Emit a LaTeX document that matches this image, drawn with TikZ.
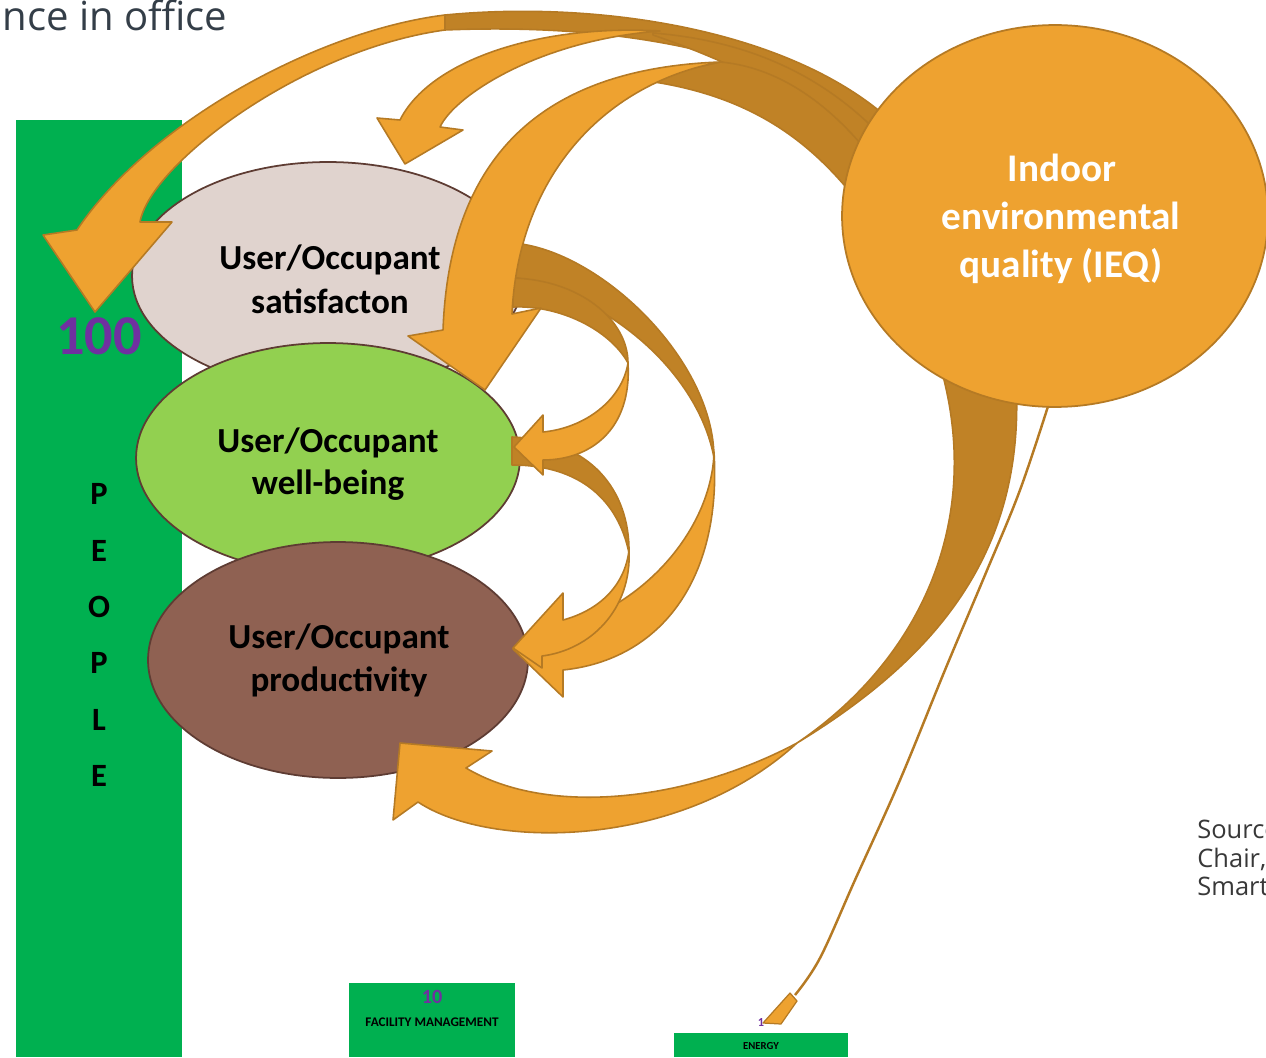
\documentclass[tikz,border=0pt]{standalone}
\usepackage{fontspec}
\setmainfont{Carlito}
\newfontfamily\headfont{Open Sans}
\usetikzlibrary{shapes.geometric}

\definecolor{gbar}{HTML}{00B050}
\definecolor{purp}{HTML}{7030A0}
\definecolor{amber}{HTML}{EEA230}
\definecolor{amberdk}{HTML}{C08226}
\definecolor{amberln}{HTML}{B57A24}
\definecolor{satfill}{HTML}{E0D3CE}
\definecolor{wbfill}{HTML}{92D050}
\definecolor{prodfill}{HTML}{8F6152}
\definecolor{ellline}{HTML}{5E3C33}
\definecolor{slate}{HTML}{343E48}

\begin{document}
\begin{tikzpicture}[x=0.02cm,y=-0.02cm,
  front/.style={fill=amber,draw=amberln,line width=0.9pt,line join=round},
  back/.style={fill=amberdk,draw=amberln,line width=0.9pt,line join=round},
  oval/.style={ellipse,draw=ellline,line width=1pt,inner sep=0pt},
  lbl/.style={font=\bfseries\fontsize{20}{24}\selectfont,anchor=base,inner sep=0pt},
  ieqlbl/.style={font=\bfseries\fontsize{22.3}{27}\selectfont,text=white,anchor=base,inner sep=0pt},
  letter/.style={font=\bfseries\fontsize{18.5}{20}\selectfont,anchor=base,inner sep=0pt},
  note/.style={font=\headfont\fontsize{14.5}{16}\selectfont,text=black!78,anchor=base west,inner sep=0pt},
  box/.style={fill=gbar,draw=none,anchor=north west,inner sep=0pt}
]
\useasboundingbox (0,0) rectangle (1266,1057);

% green blocks
\node[box,minimum width=3.32cm,minimum height=18.74cm] (people) at (16,120) {};
\node[box,minimum width=3.32cm,minimum height=1.48cm] (fm) at (349,983) {};
\node[box,minimum width=3.48cm,minimum height=0.48cm] (energy) at (674,1033) {};
\node[font=\bfseries\fontsize{11.5}{12}\selectfont,text=purp,inner sep=0pt] (fmval) at (432,997) {10};
\node[font=\bfseries\fontsize{7.5}{8}\selectfont,inner sep=0pt] (fmtxt) at (432,1022) {FACILITY MANAGEMENT};
\node[font=\bfseries\fontsize{6.1}{7}\selectfont,inner sep=0pt] (entxt) at (761,1046) {ENERGY};
\node[font=\bfseries\fontsize{7}{8}\selectfont,text=purp,inner sep=0pt] (enval) at (761,1022) {1};

% heading and source note
\node[font=\headfont\fontsize{22.8}{26}\selectfont,text=slate,anchor=base west,inner sep=0pt] (title) at (-20,31) {ance in office};
\node[note] (src1) at (1197,838) {Source};
\node[note] (src2) at (1197,867) {Chair,};
\node[note] (src3) at (1197,895) {Smart};

% back faces of the ribbons leaving IEQ
\path[back] (445,15) .. controls (600,0) and (790,30) .. (890,120)
  -- (885,142) .. controls (800,60) and (640,22) .. (445,30) -- cycle;
\path[back] (653,33) .. controls (740,40) and (820,70) .. (885,140)
  -- (872,165) .. controls (820,105) and (740,65) .. (653,35) -- cycle;
\path[back] (720,62) .. controls (790,68) and (850,120) .. (895,190)
  -- (868,215) .. controls (820,150) and (760,95) .. (640,80) -- cycle;
\path[back] (1016,380) .. controls (1025,540) and (950,650) .. (797,743)
  .. controls (920,660) and (985,520) .. (940,365) -- cycle;

% thin ribbon to ENERGY
\draw[amberln,line width=1.4pt] plot[smooth,tension=0.6] coordinates {(1050,400) (1020,490) (985,575) (945,670) (900,780) (855,880) (820,958) (795,995)};
\path[front,line width=0.7pt] (790,993) -- (763,1023) -- (781,1024) -- (797,1001) -- cycle;

% IEQ
\node[ellipse,fill=amber,draw=amberln,line width=1pt,minimum width=8.52cm,minimum height=7.64cm,inner sep=0pt] (ieq) at (1055,216) {};
\node[ieqlbl] (ieq1) at (1062,182) {Indoor};
\node[ieqlbl] (ieq2) at (1061,230) {environmental};
\node[ieqlbl] (ieq3) at (1061,277) {quality (IEQ)};

% occupant ellipses
\node[oval,fill=satfill,minimum width=7.84cm,minimum height=4.56cm] (sat) at (328,276) {};
\node[oval,fill=wbfill,minimum width=7.68cm,minimum height=4.6cm] (wb) at (328,458) {};
\node[oval,fill=prodfill,minimum width=7.6cm,minimum height=4.72cm] (prod) at (338,660) {};
\node[lbl] (sat1) at (330,270) {User/Occupant};
\node[lbl] (sat2) at (330,313) {satisfacton};
\node[lbl] (wb1) at (328,452) {User/Occupant};
\node[lbl] (wb2) at (328,494) {well-being};
\node[lbl] (prod1) at (339,648) {User/Occupant};
\node[lbl] (prod2) at (339,691) {productivity};

% PEOPLE column
\node[font=\bfseries\fontsize{32}{34}\selectfont,text=purp,anchor=base,inner sep=0pt] (hundred) at (99,354) {100};
\node[letter] (p1) at (99,504) {P};
\node[letter] (p2) at (99,561) {E};
\node[letter] (p3) at (99,617) {O};
\node[letter] (p4) at (99,673) {P};
\node[letter] (p5) at (99,730) {L};
\node[letter] (p6) at (99,786) {E};

% ribbons between the occupant ellipses: back faces
\path[back] (513,243) .. controls (600,250) and (714,360) .. (714,458)
  .. controls (700,380) and (620,300) .. (513,277) -- cycle;
\path[back] (513,278) .. controls (580,280) and (628,320) .. (628,363)
  .. controls (610,330) and (560,305) .. (513,307) -- cycle;
\path[back] (512,437) .. controls (590,440) and (630,490) .. (629,553)
  .. controls (618,500) and (580,465) .. (512,465) -- cycle;

% ribbons between the occupant ellipses: front faces
\path[front] (628,363) .. controls (632,430) and (590,460) .. (543,460)
  -- (543,475) -- (514,447) -- (543,415) -- (543,432)
  .. controls (585,428) and (622,400) .. (628,363) -- cycle;
\path[front] (714,452) .. controls (722,580) and (660,660) .. (563,670)
  -- (563,697) -- (513,649) -- (542,617) -- (542,632)
  .. controls (640,615) and (712,530) .. (714,452) -- cycle;
\path[front] (629,550) .. controls (632,610) and (590,650) .. (542,656)
  -- (542,668) -- (513,648) -- (563,593) -- (563,620)
  .. controls (600,610) and (625,585) .. (629,550) -- cycle;

% front faces of the ribbons leaving IEQ
\path[front] (720,62) .. controls (560,68) and (450,140) .. (443,330)
  -- (408,336) -- (485,390) -- (541,308) -- (512,314)
  .. controls (518,180) and (600,85) .. (720,62) -- cycle;
\path[front] (660,31) .. controls (540,24) and (430,60) .. (400,120)
  -- (377,118) -- (405,164) -- (463,130) -- (440,127)
  .. controls (455,95) and (540,40) .. (660,31) -- cycle;
\path[front] (445,15) .. controls (315,31) and (147,125) .. (77,230)
  -- (43,235) -- (95,312) -- (172,222) -- (140,222)
  .. controls (150,165) and (300,50) .. (445,30) -- cycle;
\path[front] (797,743) .. controls (690,800) and (550,818) .. (466,768)
  -- (492,751) -- (400,743) -- (393,820) -- (418,802)
  .. controls (490,850) and (680,850) .. (797,743) -- cycle;
\end{tikzpicture}
\end{document}
